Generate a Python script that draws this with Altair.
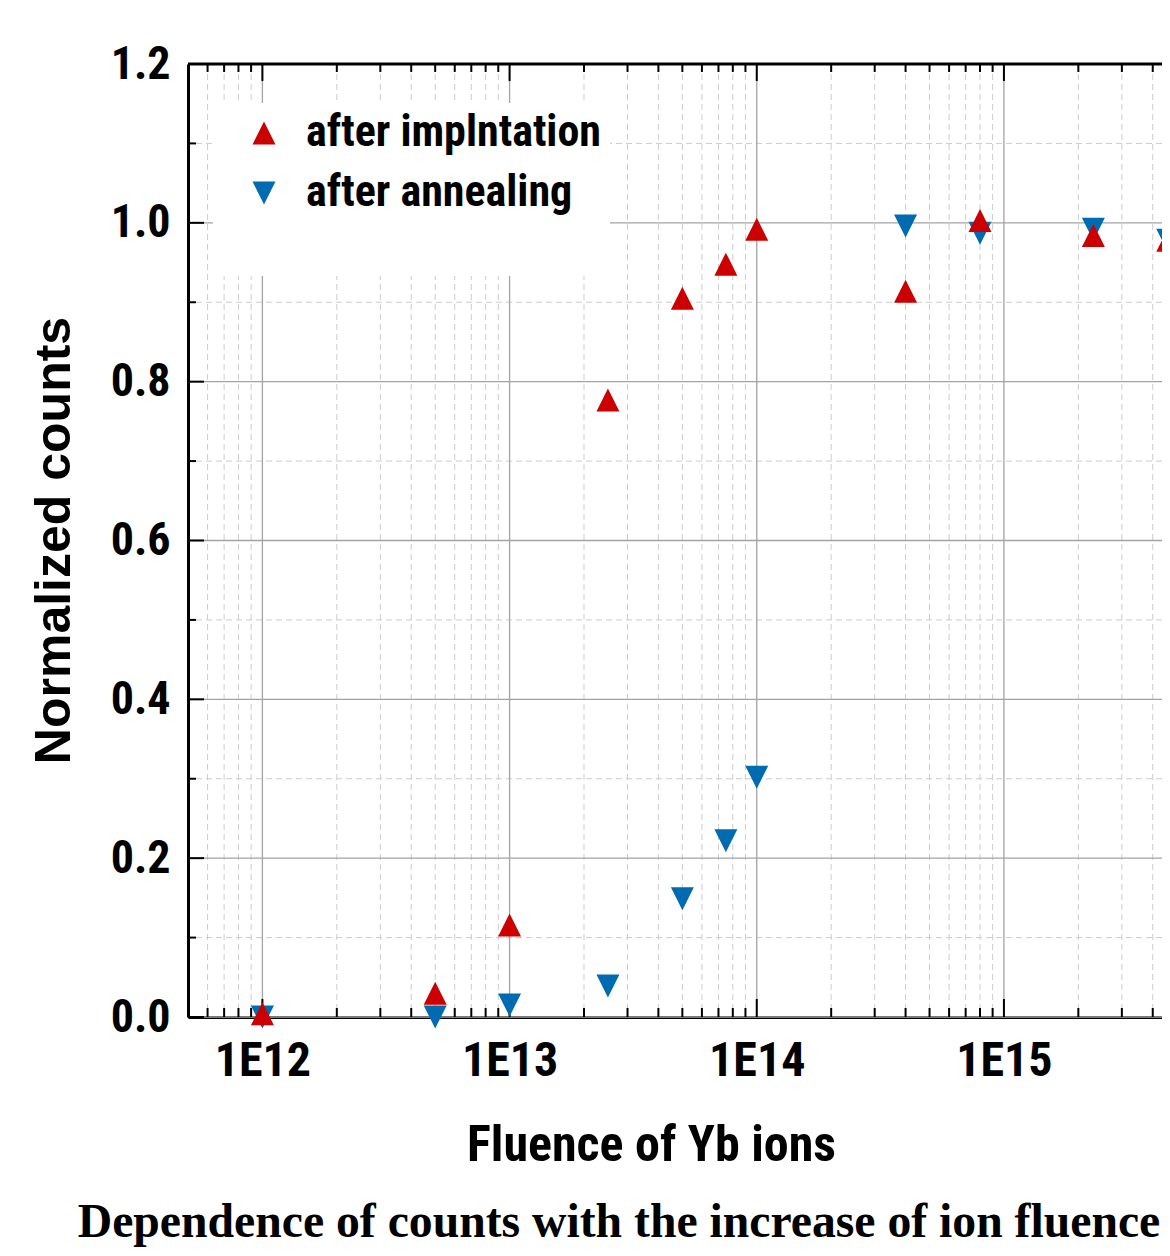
import altair as alt
import pandas as pd

# ---------------- data ----------------
fluence = [1e12, 5e12, 1e13, 2.5e13, 5e13, 7.5e13, 1e14, 4e14, 8e14, 2.3e15, 4.6e15]
after_implantation = [0.004, 0.030, 0.116, 0.777, 0.905, 0.948, 0.992, 0.914, 1.003, 0.984, 0.978]
after_annealing = [0.000, 0.000, 0.015, 0.039, 0.149, 0.222, 0.302, 0.996, 0.987, 0.992, 0.978]

S_IMP = "after implntation"
S_ANN = "\u00a0after annealing"

x_major = [1e12, 1e13, 1e14, 1e15]
x_decades = [1e11, 1e12, 1e13, 1e14, 1e15]
x_multipliers = [2, 3, 4, 5, 6, 7, 8, 9]
x_domain = [5e11, 4.36e15]
x_minor = [m * d for d in x_decades for m in x_multipliers if x_domain[0] < m * d < x_domain[1]]

y_major = [0.0, 0.2, 0.4, 0.6, 0.8, 1.0, 1.2]
y_minor = [0.1, 0.3, 0.5, 0.7, 0.9, 1.1]

# ---------------- layout / style ----------------
W, H = 974, 953
NARROW = "Roboto Condensed, Liberation Sans Narrow, Liberation Sans, Arial, sans-serif"
WIDE = "Liberation Sans, Arial, sans-serif"
RED, BLUE = "#cc0000", "#006bb0"

pts = pd.DataFrame(
    {"fluence": fluence + fluence,
     "counts": after_annealing + after_implantation,
     "series": [S_ANN] * len(fluence) + [S_IMP] * len(fluence),
     "z": [0] * len(fluence) + [1] * len(fluence)}
)
xmaj = pd.DataFrame({"v": x_major})
xmin = pd.DataFrame({"v": x_minor})
ymaj = pd.DataFrame({"v": y_major})
ymin = pd.DataFrame({"v": y_minor})
one = pd.DataFrame({"k": [0]})

xs = alt.Scale(type="log", domain=x_domain, nice=False)
ys = alt.Scale(domain=[0, 1.2], nice=False, zero=False)

X_AXIS = alt.Axis(
    values=x_major, labelExpr="'1E' + round(log(datum.value) / LN10)",
    ticks=False, grid=False, domainColor="black", domainWidth=3,
    labelFont=NARROW, labelFontSize=48, labelFontWeight="bold", labelColor="black",
    labelPadding=20, labelFlush=False, labelOverlap=False,
    title="Fluence of Yb ions", titleFont=NARROW, titleFontSize=50,
    titleFontWeight="bold", titleColor="black", titleX=463, titleY=143,
    titleBaseline="alphabetic", titleAlign="center",
)
Y_AXIS = alt.Axis(
    values=y_major, format=".1f",
    ticks=False, grid=False, domainColor="black", domainWidth=3,
    labelFont=NARROW, labelFontSize=46, labelFontWeight="bold", labelColor="black",
    labelPadding=18, labelFlush=False, labelOverlap=False,
    title="Normalized counts", titleFont=WIDE, titleFontSize=50,
    titleFontWeight="bold", titleColor="black", titleX=-119, titleY=476,
    titleAngle=270, titleBaseline="alphabetic", titleAlign="center",
)

def vx(df):
    return alt.Chart(df).encode(x=alt.X("v:Q", scale=xs, axis=X_AXIS))

def hy(df):
    return alt.Chart(df).encode(y=alt.Y("v:Q", scale=ys, axis=Y_AXIS))

grid_x_minor = vx(xmin).mark_rule(color="#cccccc", strokeWidth=1, strokeDash=[6, 4])
grid_y_minor = hy(ymin).mark_rule(color="#cccccc", strokeWidth=1, strokeDash=[6, 4])
grid_x_major = vx(xmaj).mark_rule(color="#a3a3a3", strokeWidth=1.3)
grid_y_major = hy(ymaj).mark_rule(color="#a3a3a3", strokeWidth=1.3)

tick_style = dict(color="black", strokeWidth=2)
bot_major = vx(xmaj).mark_rule(**tick_style).encode(y=alt.value(H), y2=alt.value(H - 18))
bot_minor = vx(xmin).mark_rule(**tick_style).encode(y=alt.value(H), y2=alt.value(H - 9))
top_major = vx(xmaj).mark_rule(**tick_style).encode(y=alt.value(0), y2=alt.value(17))
top_minor = vx(xmin).mark_rule(**tick_style).encode(y=alt.value(0), y2=alt.value(8))
left_major = hy(ymaj).mark_rule(**tick_style).encode(x=alt.value(0), x2=alt.value(16))
left_minor = hy(ymin).mark_rule(**tick_style).encode(x=alt.value(0), x2=alt.value(8))
top_border = alt.Chart(one).mark_rule(color="black", strokeWidth=3).encode(
    x=alt.value(0), x2=alt.value(W), y=alt.value(0)
)

legend = alt.Legend(
    title="\u00a0", titleOrient="bottom", titleFontSize=38, titlePadding=15,
    orient="none", legendX=25, legendY=39, fillColor="white", padding=8,
    symbolOffset=21, labelOffset=20, rowPadding=16,
    labelFont=NARROW, labelFontSize=44, labelFontWeight="bold", labelColor="black",
    labelLimit=0, symbolSize=529, symbolStrokeWidth=0, symbolOpacity=1, zindex=1,
)

TRI_UP = "M0,-1L1,1L-1,1Z"
TRI_DOWN = "M-1,-1L1,-1L0,1Z"

points = alt.Chart(pts).mark_point(filled=True, opacity=1, size=529, strokeWidth=0).encode(
    x=alt.X("fluence:Q", scale=xs, axis=X_AXIS),
    y=alt.Y("counts:Q", scale=ys, axis=Y_AXIS),
    color=alt.Color("series:N", scale=alt.Scale(domain=[S_IMP, S_ANN], range=[RED, BLUE]), legend=legend),
    shape=alt.Shape("series:N", scale=alt.Scale(domain=[S_IMP, S_ANN], range=[TRI_UP, TRI_DOWN]), legend=legend),
    order=alt.Order("z:Q", sort="ascending"),
)

chart = alt.layer(
    grid_x_minor, grid_y_minor, grid_x_major, grid_y_major,
    bot_major, bot_minor, top_major, top_minor, left_major, left_minor, top_border,
    points,
).properties(
    width=W, height=H,
    padding={"left": 180, "top": 56, "right": 0, "bottom": 231},
    autosize=alt.AutoSizeParams(type="none"),
    title=alt.TitleParams(
        text="Dependence of counts with the increase of ion fluence",
        orient="bottom", anchor="middle", frame="group", dx=-56, offset=67,
        baseline="alphabetic", font="Liberation Serif", fontSize=47.7,
        fontWeight="bold", color="black",
    ),
).configure_view(stroke=None).configure(background="white")

chart.save("out.html", embed_options={"renderer": "svg", "actions": False})
